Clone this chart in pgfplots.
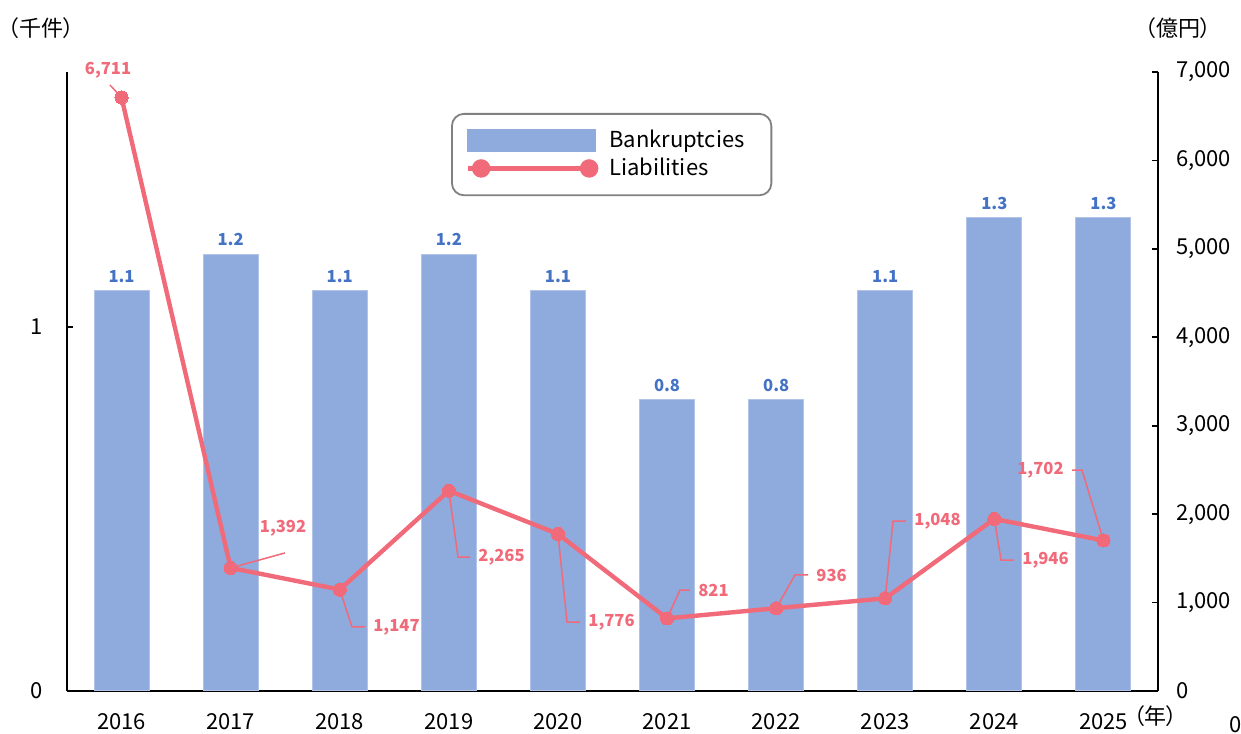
\documentclass[border=0pt]{standalone}
\usepackage{fontspec}
\setmainfont{Noto Sans CJK JP}
\newfontfamily\captfont[CharacterWidth=AlternateProportional]{Noto Sans CJK JP}
\usepackage{pgfplots}
\pgfplotsset{compat=1.18}

\definecolor{barblue}{RGB}{143,170,220}
\definecolor{baredge}{RGB}{178,197,232}
\definecolor{barlabel}{RGB}{68,114,196}
\definecolor{linered}{RGB}{240,106,122}
\definecolor{legframe}{RGB}{128,128,128}

\newcommand{\tickfont}{\fontsize{11}{13}\selectfont}
\newcommand{\lblfont}{\bfseries\fontsize{8.3}{10}\selectfont}

\begin{document}
\begin{tikzpicture}
\path[use as bounding box] (0,0) rectangle (620.5pt,366.5pt);

% bars: bankruptcies (thousand cases), left axis
\begin{axis}[
  at={(33.5pt,21pt)}, anchor=south west,
  scale only axis, width=545.5pt, height=309.5pt,
  axis y line*=left, axis x line*=bottom,
  axis line style={black, line width=0.8pt, -},
  xmin=-0.5, xmax=9.5, ymin=0, ymax=1.7,
  xtick={0,...,9},
  xticklabels={2016,2017,2018,2019,2020,2021,2022,2023,2024,2025},
  ytick={0,1},
  xtick style={draw=none},
  ytick style={black, line width=0.8pt},
  tick align=inside, major tick length=3pt,
  tick label style={font=\tickfont},
  xticklabel style={inner sep=0pt, yshift=-8.2pt},
  yticklabel style={xshift=-8.5pt},
  /pgf/number format/assume math mode=true,
  clip=false,
  ybar, bar width=27.5pt,
  nodes near coords={\pgfmathprintnumber[fixed,precision=1,fixed zerofill]{\pgfplotspointmeta}},
  every node near coord/.append style={font=\lblfont, color=barlabel, yshift=0.5pt},
]
\addplot[fill=barblue, draw=baredge, line width=0.5pt] coordinates {
  (0,1.1)(1,1.2)(2,1.1)(3,1.2)(4,1.1)(5,0.8)(6,0.8)(7,1.1)(8,1.3)(9,1.3)
};
\end{axis}

% line: liabilities (100 million yen), right axis
\begin{axis}[
  at={(33.5pt,21pt)}, anchor=south west,
  scale only axis, width=545.5pt, height=309.5pt,
  axis y line*=right, axis x line=none,
  axis line style={black, line width=0.8pt, -},
  xmin=-0.5, xmax=9.5, ymin=0, ymax=7000,
  ytick={0,1000,...,7000},
  ytick style={black, line width=0.8pt},
  tick align=inside, major tick length=3pt,
  tick label style={font=\tickfont},
  yticklabel style={anchor=west, xshift=5.5pt},
  /pgf/number format/assume math mode=true,
  /pgf/number format/1000 sep={,},
  clip=false,
  legend style={at={(0.3520,0.9338)}, anchor=north west,
    draw=legframe, line width=0.9pt, rounded corners=6pt,
    inner xsep=7pt, inner ysep=6.5pt, font=\tickfont,
    nodes={inner ysep=1.8pt}, column sep=3.5pt},
  legend cell align=left,
]
\addlegendimage{legend image code/.code={\fill[barblue, sharp corners] (0pt,-5.25pt) rectangle (63.5pt,5.25pt);}}
\addlegendentry{\makebox[72pt][l]{Bankruptcies}}
\addplot[linered, line width=2.2pt, mark=*, mark size=3.3pt,
  mark options={fill=linered, draw=linered, line width=0pt},
  legend image code/.code={
    \path (0pt,0pt) -- (63.5pt,0pt);
    \draw[linered, line width=1.5pt, sharp corners] (6.5pt,0pt) -- (60.5pt,0pt);
    \fill[linered] (6.5pt,0pt) circle (3.5pt) (60.5pt,0pt) circle (3.5pt);}]
coordinates {
  (0,6711)(1,1392)(2,1147)(3,2265)(4,1776)(5,821)(6,936)(7,1048)(8,1946)(9,1702)
};
\addlegendentry{\makebox[72pt][l]{Liabilities}}

% leader lines and value labels
\begin{scope}[linered, line width=0.75pt]
\draw (axis cs:0,6711) -- (axis cs:-0.106,6853);
\draw (axis cs:1,1392) -- (axis cs:1.498,1561);
\draw (axis cs:2,1147) -- (axis cs:2.112,724) -- (axis cs:2.231,724);
\draw (axis cs:3,2265) -- (axis cs:3.084,1515) -- (axis cs:3.194,1515);
\draw (axis cs:4,1776) -- (axis cs:4.083,780) -- (axis cs:4.202,780);
\draw (axis cs:5,821) -- (axis cs:5.119,1142) -- (axis cs:5.21,1142);
\draw (axis cs:6,936) -- (axis cs:6.173,1312) -- (axis cs:6.292,1312);
\draw (axis cs:7,1048) -- (axis cs:7.071,1922) -- (axis cs:7.19,1922);
\draw (axis cs:8,1946) -- (axis cs:8.061,1481) -- (axis cs:8.18,1481);
\draw (axis cs:9,1702) -- (axis cs:8.803,2499) -- (axis cs:8.712,2499);
\end{scope}
\begin{scope}[every node/.style={font=\lblfont, text=linered, inner sep=0pt}]
\node at (axis cs:-0.124,7022) {6,711};
\node at (axis cs:1.48,1843) {1,392};
\node[anchor=west, xshift=4pt] at (axis cs:2.231,724) {1,147};
\node[anchor=west, xshift=4pt] at (axis cs:3.194,1515) {2,265};
\node[anchor=west, xshift=4pt] at (axis cs:4.202,780) {1,776};
\node[anchor=west, xshift=4pt] at (axis cs:5.21,1142) {821};
\node[anchor=west, xshift=4pt] at (axis cs:6.292,1312) {936};
\node[anchor=west, xshift=4pt] at (axis cs:7.19,1922) {1,048};
\node[anchor=west, xshift=4pt] at (axis cs:8.18,1481) {1,946};
\node[anchor=east, xshift=-4pt] at (axis cs:8.712,2499) {1,702};
\end{scope}
\end{axis}

% unit captions
\node[font=\tickfont\captfont, inner sep=0pt] at (20.5pt,352.5pt) {（千件）};
\node[font=\tickfont\captfont, inner sep=0pt] at (589pt,352.5pt) {（億円）};
\node[font=\tickfont\captfont, inner sep=0pt, anchor=west] at (566.5pt,8.5pt) {（年）};
\node[font=\tickfont, inner sep=0pt] at (617.8pt,4pt) {0};
\end{tikzpicture}
\end{document}
